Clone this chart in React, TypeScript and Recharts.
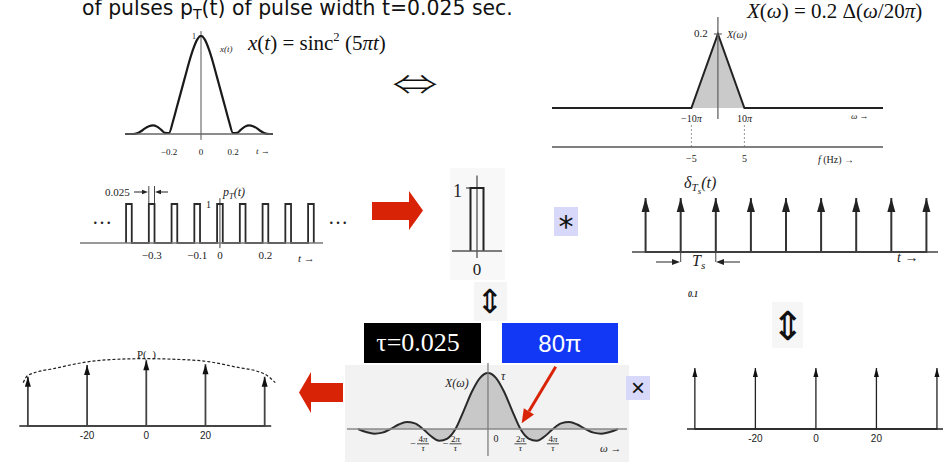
import React from 'react';
import { ComposedChart, Line, Area, XAxis, YAxis, ReferenceLine } from 'recharts';

const SERIF = '"Liberation Serif", "Times New Roman", serif';
const SANS = '"Liberation Sans", Arial, sans-serif';
const DEJAVU = '"DejaVu Sans", sans-serif';
const CJK = '"Noto Sans CJK JP", "DejaVu Sans", sans-serif';
const RED = '#d92306';

// ---------------- data ----------------
// top-left: x(t) = sinc^2(5πt)
const sincSqTime = [-0.475, -0.45, -0.425, -0.4, -0.375, -0.35, -0.325, -0.3, -0.275, -0.25, -0.225, -0.2, -0.175, -0.15, -0.125, -0.1, -0.075, -0.05, -0.025, 0, 0.025, 0.05, 0.075, 0.1, 0.125, 0.15, 0.175, 0.2, 0.225, 0.25, 0.275, 0.3, 0.325, 0.35, 0.375, 0.4, 0.425, 0.45];
const sincSqValue = [0, 0, 0, 0.006, 0.028, 0.058, 0.08, 0.088, 0.075, 0.045, 0.012, 0.01, 0.13, 0.28, 0.43, 0.58, 0.73, 0.86, 0.96, 1, 0.96, 0.86, 0.73, 0.58, 0.43, 0.28, 0.13, 0.01, 0.012, 0.045, 0.075, 0.088, 0.08, 0.058, 0.028, 0.006, 0, 0];
const sincSqTicks = [-0.2, 0, 0.2];

// top-right: X(ω) = 0.2 Δ(ω/20π), ω in units of π
const triOmega = [-62.6, -10, 0, 10, 62.3];
const triValue = [0, 0, 0.2, 0, 0];
const triTicks = [-10, 10];
const freqAxisHz = [-31.3, 31.15];
const freqTicks = [-5, 5];

// pulse train p_T(t)
const pulseCenters = [-0.4, -0.3, -0.2, -0.1, 0, 0.1, 0.2, 0.3, 0.4];
const pulseWidth = 0.025;
const pulseTicks = [-0.3, -0.1, 0, 0.2];

// single pulse
const singlePulseCenters = [0];
const singlePulseTicks = [0];

// impulse train δ_Ts(t), Ts = 0.1
const combTimes = [-0.4, -0.3, -0.2, -0.1, 0, 0.1, 0.2, 0.3, 0.4];
const combTimeHeights = [1, 1, 1, 1, 1, 1, 1, 1, 1];

// spectrum of one pulse, ω in units of 2π/τ
const pulseSpecOmega = [-4, -3.75, -3.5, -3.25, -3, -2.75, -2.5, -2.25, -2, -1.75, -1.5, -1.25, -1, -0.75, -0.5, -0.25, 0, 0.25, 0.5, 0.75, 1, 1.25, 1.5, 1.75, 2, 2.25, 2.5, 2.75, 3, 3.25, 3.5, 3.75, 4];
const pulseSpecValue = [0, -0.055, -0.085, -0.065, 0, 0.08, 0.125, 0.1, 0, -0.13, -0.21, -0.17, 0, 0.32, 0.66, 0.91, 1, 0.91, 0.66, 0.32, 0, -0.17, -0.21, -0.13, 0, 0.1, 0.125, 0.08, 0, -0.065, -0.085, -0.055, 0];
const pulseSpecTicks = [-2, -1, 0, 1, 2];
const pulseSpecNumer = ['4π', '2π', '0', '2π', '4π'];

// frequency comb
const combFreqs = [-40, -20, 0, 20, 40];
const combFreqHeights = [1, 1, 1, 1, 1];
const combFreqTicks = [-20, 0, 20];

// sampled spectrum P(ω)
const sampledFreqs = [-40, -20, 0, 20, 40];
const sampledHeights = [0.75, 0.93, 1, 0.94, 0.75];
const envelopeFreq = [-41.6, -40, -30, -20, -10, 0, 10, 20, 30, 40, 43.6];
const envelopeValue = [0.66, 0.77, 0.885, 0.975, 1.015, 1.025, 1.015, 0.985, 0.9, 0.79, 0.66];
const sampledTicks = [-20, 0, 20];

// ---------------- helpers ----------------
const zip = (xs: number[], ys: number[], kx: string, ky: string) => xs.map((x, i) => ({ [kx]: x, [ky]: ys[i] }));
const buildStems = (xs: number[], hs: number[]) =>
  xs.flatMap((x, i) => [{ x, y: 0 }, { x, y: hs[i], tip: true }, { x, y: 0 }]);
const buildPulses = (cs: number[], w: number) =>
  cs.flatMap((c) => [{ t: c - w / 2, v: 0 }, { t: c - w / 2, v: 1 }, { t: c + w / 2, v: 1 }, { t: c + w / 2, v: 0 }]);

const sincSqData = zip(sincSqTime, sincSqValue, 't', 'v');
const triData = zip(triOmega, triValue, 'w', 'v');
const freqData = zip(freqAxisHz, [0, 0], 'f', 'v');
const pulseData = buildPulses(pulseCenters, pulseWidth);
const singlePulseData = buildPulses(singlePulseCenters, pulseWidth);
const combTimeData = buildStems(combTimes, combTimeHeights);
const pulseSpecData = zip(pulseSpecOmega, pulseSpecValue, 'u', 'v');
const combFreqData = buildStems(combFreqs, combFreqHeights);
const sampledData = buildStems(sampledFreqs, sampledHeights);
const envelopeData = zip(envelopeFreq, envelopeValue, 'x', 'env');

const fmtNum = (v: number) => (v < 0 ? '\u2212' + String(-v) : String(v));

const tickText = (size: number, dy: number, family: string, fmt: (v: number) => React.ReactNode = fmtNum, dx = 0) =>
  (p: any) => (
    <text x={p.x + dx} y={p.y + dy} textAnchor="middle" fontSize={size} fontFamily={family} fill="#222">
      {fmt(p.payload.value)}
    </text>
  );

const arrowDot = (w: number, h: number, color: string) => (p: any) => {
  const { cx, cy, payload, index } = p;
  if (!payload || !payload.tip) return <g key={`d${index}`} />;
  return <path key={`d${index}`} d={`M${cx},${cy} L${cx - w / 2},${cy + h} L${cx + w / 2},${cy + h} Z`} fill={color} />;
};

const FracTick = (p: any) => {
  const { x, y, payload } = p;
  const v = payload.value;
  const i = pulseSpecTicks.indexOf(v);
  if (v === 0) {
    return <text x={x + 8} y={y - 1} textAnchor="middle" fontFamily={SERIF} fontSize={10} fill="#222">0</text>;
  }
  const num = pulseSpecNumer[i];
  return (
    <g>
      {v < 0 && <text x={x - 10} y={y + 3.5} textAnchor="middle" fontFamily={SERIF} fontSize={10} fill="#222">−</text>}
      <text x={x} y={y - 0.7} textAnchor="middle" fontFamily={SERIF} fontSize={9} fill="#222">
        {num.slice(0, 1)}<tspan fontStyle="italic">{num.slice(1)}</tspan>
      </text>
      <line x1={x - 6} x2={x + 6} y1={y + 0.8} y2={y + 0.8} stroke="#222" strokeWidth={0.8} />
      <text x={x} y={y + 7.5} textAnchor="middle" fontFamily={SERIF} fontStyle="italic" fontSize={9} fill="#222">τ</text>
    </g>
  );
};

const Pos = ({ left, top, children }: any) => (
  <div style={{ position: 'absolute', left, top }}>{children}</div>
);

const L = ({ x, base, size, family = SERIF, children, color = '#222', italic = false, weight = 'normal' }: any) => (
  <div
    style={{
      position: 'absolute', left: x, top: base - 0.84 * size, fontSize: size, lineHeight: `${size}px`,
      fontFamily: family, color, whiteSpace: 'nowrap', fontStyle: italic ? 'italic' : 'normal', fontWeight: weight,
    }}
  >
    {children}
  </div>
);

const CL = ({ cx, base, size, family = SERIF, children, color = '#222' }: any) => (
  <div
    style={{
      position: 'absolute', left: cx - 150, width: 300, textAlign: 'center', top: base - 0.84 * size,
      fontSize: size, lineHeight: `${size}px`, fontFamily: family, color, whiteSpace: 'nowrap',
    }}
  >
    {children}
  </div>
);

const Sub = ({ children, size = '0.7em', shift = '-0.3em' }: any) => (
  <span style={{ fontSize: size, verticalAlign: shift, lineHeight: 0 }}>{children}</span>
);

const Box = ({ left, top, width, height, bg }: any) => (
  <div style={{ position: 'absolute', left, top, width, height, background: bg }} />
);

const Sym = ({ cx, cy, w, h, size, sx = 1, sy = 1, family, weight = 'normal', children }: any) => (
  <div
    style={{
      position: 'absolute', left: cx - w / 2, top: cy - h / 2, width: w, height: h, display: 'flex',
      alignItems: 'center', justifyContent: 'center', fontSize: size, lineHeight: `${h}px`, fontFamily: family,
      fontWeight: weight, color: '#111', transform: `scale(${sx}, ${sy})`, overflow: 'visible',
    }}
  >
    {children}
  </div>
);

export default function App() {
  const m0 = { right: 0, bottom: 0, left: 0 };
  return (
    <div style={{ position: 'absolute', left: 0, top: 0, width: 947, height: 464, overflow: 'hidden', background: '#fff' }}>
      {/* faint backgrounds */}
      <Box left={450} top={168} width={55} height={112} bg="#f8f8f8" />
      <Box left={474} top={282} width={33} height={39} bg="#f5f5f5" />
      <Box left={772} top={302} width={31} height={46} bg="#f6f6f6" />
      <Box left={345} top={365} width={284} height={97} bg="#f2f2f2" />

      {/* heading */}
      <L x={82} base={15.5} size={20.4} family={DEJAVU} color="#111">
        of pulses p<Sub>T</Sub>(t) of pulse width t=0.025 sec.
      </L>

      {/* formulas */}
      <L x={248} base={50.5} size={21} color="#111">
        <i>x</i>(<i>t</i>) = sinc<span style={{ fontSize: '0.6em', verticalAlign: '0.75em', lineHeight: 0 }}>2</span> (5<i>πt</i>)
      </L>
      <L x={747} base={18.5} size={21} color="#111">
        <i>X</i>(<i>ω</i>) = 0.2 Δ(<i>ω</i>/20<i>π</i>)
      </L>

      {/* ⇔ */}
      <Sym cx={415} cy={83} w={48} h={30} size={46} sx={1} sy={0.62} family={CJK} weight={300}>⇔</Sym>

      {/* A: sinc^2 */}
      <Pos left={125} top={26}>
        <ComposedChart width={148} height={132} data={sincSqData} margin={{ top: 10, ...m0 }}>
          <XAxis dataKey="t" type="number" domain={[-0.475, 0.45]} ticks={sincSqTicks} interval={0} height={24}
            tickSize={0} tickMargin={0} tickLine={false} axisLine={{ stroke: '#666', strokeWidth: 1.5 }}
            tick={tickText(9, 21, SERIF)} />
          <YAxis hide type="number" domain={[0, 1]} />
          <ReferenceLine segment={[{ x: 0, y: -0.06 }, { x: 0, y: 1.05 }]} stroke="#555" strokeWidth={1} ifOverflow="visible" />
          <ReferenceLine segment={[{ x: -0.015, y: 1 }, { x: 0.015, y: 1 }]} stroke="#555" strokeWidth={1} ifOverflow="visible" />
          <Line dataKey="v" type="monotone" stroke="#1a1a1a" strokeWidth={2.2} dot={false} isAnimationActive={false} />
        </ComposedChart>
      </Pos>
      <L x={192} base={40} size={8}>1</L>
      <L x={220} base={53} size={9} italic>x(t)</L>
      <L x={256} base={155} size={9}><i>t</i> →</L>

      {/* B: triangle spectrum */}
      <Pos left={552} top={14}>
        <ComposedChart width={331} height={114} data={triData} margin={{ top: 20, ...m0 }}>
          <XAxis dataKey="w" type="number" domain={[-62.6, 62.3]} ticks={triTicks} interval={0} height={20}
            tickSize={0} tickMargin={0} tickLine={false} axisLine={false}
            tick={tickText(10, 13.5, SERIF, (v) => <>{fmtNum(v)}<tspan fontStyle="italic">π</tspan></>)} />
          <YAxis hide type="number" domain={[0, 0.2]} />
          <Area dataKey="v" type="linear" baseValue={0} fill="#cacaca" fillOpacity={1} stroke="#222" strokeWidth={2} isAnimationActive={false} />
          <ReferenceLine segment={[{ x: 0, y: -0.03 }, { x: 0, y: 0.246 }]} stroke="#666" strokeWidth={1.3} ifOverflow="visible" />
          <ReferenceLine segment={[{ x: -1.5, y: 0.2 }, { x: 1.5, y: 0.2 }]} stroke="#444" strokeWidth={1} ifOverflow="visible" />
        </ComposedChart>
      </Pos>
      <Pos left={552} top={124}>
        <ComposedChart width={331} height={43} data={freqData} margin={{ top: 0, ...m0 }}>
          <XAxis dataKey="f" type="number" domain={[-31.3, 31.15]} ticks={freqTicks} interval={0} height={20}
            tickSize={0} tickMargin={0} tickLine={false} axisLine={false} tick={tickText(10, 15, SERIF)} />
          <YAxis hide type="number" domain={[0, 1]} />
          <ReferenceLine x={-5} stroke="#999" strokeDasharray="2 2" />
          <ReferenceLine x={5} stroke="#999" strokeDasharray="2 2" />
          <Line dataKey="v" type="linear" stroke="#555" strokeWidth={1.3} dot={false} isAnimationActive={false} />
        </ComposedChart>
      </Pos>
      <L x={694} base={37} size={11}>0.2</L>
      <L x={727} base={38} size={10} italic>X(ω)</L>
      <L x={851} base={120} size={9}><i>ω</i> →</L>
      <L x={818} base={163} size={10}><i>f</i> (Hz) →</L>

      {/* C: pulse train */}
      <Pos left={80} top={180}>
        <ComposedChart width={243} height={83} margin={{ top: 24, ...m0 }}>
          <XAxis dataKey="t" type="number" domain={[-0.615, 0.453]} ticks={pulseTicks} interval={0} height={20}
            tickSize={0} tickMargin={0} tickLine={false} axisLine={{ stroke: '#777', strokeWidth: 1.3 }}
            tick={tickText(11, 16, SERIF)} />
          <YAxis hide type="number" domain={[0, 1]} />
          <ReferenceLine segment={[{ x: 0, y: -0.13 }, { x: 0, y: 1.15 }]} stroke="#444" strokeWidth={1} ifOverflow="visible" />
          <ReferenceLine segment={[{ x: -0.3125, y: 1 }, { x: -0.3125, y: 1.46 }]} stroke="#444" strokeWidth={1} ifOverflow="visible" />
          <ReferenceLine segment={[{ x: -0.2875, y: 1 }, { x: -0.2875, y: 1.46 }]} stroke="#444" strokeWidth={1} ifOverflow="visible" />
          <Line data={pulseData} dataKey="v" type="linear" stroke="#2a2a2a" strokeWidth={1.8} dot={false} isAnimationActive={false} />
        </ComposedChart>
      </Pos>
      <L x={105} base={196} size={11}>0.025</L>
      <L x={223} base={196} size={12} italic>p<Sub>T</Sub>(t)</L>
      <L x={206} base={208} size={10}>1</L>
      <L x={92} base={224} size={20}>…</L>
      <L x={328} base={224} size={20}>…</L>
      <L x={298} base={262} size={11}><i>t</i> →</L>

      {/* D: single pulse */}
      <Pos left={452} top={170}>
        <ComposedChart width={50} height={111} margin={{ top: 18, ...m0 }}>
          <XAxis dataKey="t" type="number" domain={[-0.048, 0.048]} ticks={singlePulseTicks} interval={0} height={30}
            tickSize={0} tickMargin={0} tickLine={false} axisLine={{ stroke: '#555', strokeWidth: 1.3 }}
            tick={tickText(17, 24, SERIF)} />
          <YAxis hide type="number" domain={[0, 1]} />
          <ReferenceLine segment={[{ x: 0, y: -0.11 }, { x: 0, y: 1.2 }]} stroke="#444" strokeWidth={1.2} ifOverflow="visible" />
          <ReferenceLine segment={[{ x: -0.021, y: 1 }, { x: 0, y: 1 }]} stroke="#444" strokeWidth={1.2} ifOverflow="visible" />
          <Line data={singlePulseData} dataKey="v" type="linear" stroke="#222" strokeWidth={2} dot={false} isAnimationActive={false} />
        </ComposedChart>
      </Pos>
      <L x={453} base={197} size={18}>1</L>

      {/* E: impulse train δ_Ts(t) */}
      <Pos left={632} top={175}>
        <ComposedChart width={306} height={87} margin={{ top: 23, ...m0 }}>
          <XAxis dataKey="x" type="number" domain={[-0.4387, 0.433]} height={10} tick={false} tickLine={false}
            axisLine={{ stroke: '#444', strokeWidth: 1.5 }} />
          <YAxis hide type="number" domain={[0, 1]} />
          <ReferenceLine segment={[{ x: -0.3, y: 0 }, { x: -0.3, y: -0.57 }]} stroke="#444" strokeWidth={1} ifOverflow="visible" />
          <ReferenceLine segment={[{ x: -0.2, y: 0 }, { x: -0.2, y: -0.57 }]} stroke="#444" strokeWidth={1} ifOverflow="visible" />
          <Line data={combTimeData} dataKey="y" type="linear" stroke="#333" strokeWidth={2} dot={arrowDot(8, 14, '#222')} isAnimationActive={false} />
        </ComposedChart>
      </Pos>
      <L x={684} base={188} size={16} italic>δ<Sub>T<Sub size="0.8em" shift="-0.35em">s</Sub></Sub>(t)</L>
      <L x={692} base={266} size={16} italic>T<Sub>s</Sub></L>
      <L x={688} base={298} size={8} italic weight="bold">0.1</L>
      <L x={897} base={263} size={14}><i>t</i> →</L>

      {/* ⇕ */}
      <Sym cx={490} cy={302} w={28} h={36} size={33} family={DEJAVU} weight={300}>⇕</Sym>
      <Sym cx={787.5} cy={325.5} w={28} h={40} size={40} family={DEJAVU} weight={300}>⇕</Sym>

      {/* * and × boxes */}
      <Box left={554} top={207} width={24} height={29} bg="#d8d8fa" />
      <div style={{ position: 'absolute', left: 554, width: 24, textAlign: 'center', top: 212, fontSize: 30, lineHeight: '30px', fontFamily: DEJAVU, color: '#111' }}>*</div>
      <Box left={626} top={376} width={24} height={24} bg="#d8d8fa" />
      <div style={{ position: 'absolute', left: 626, width: 24, textAlign: 'center', top: 376, fontSize: 24, lineHeight: '24px', fontFamily: SANS, color: '#111' }}>×</div>

      {/* τ and 80π boxes */}
      <Box left={364} top={323} width={117} height={40} bg="#000" />
      <CL cx={418} base={352} size={26} color="#fff">τ=0.025</CL>
      <Box left={502} top={323} width={116} height={40} bg="#1238f5" />
      <CL cx={560} base={352} size={24} family={SANS} color="#fff">80π</CL>

      {/* G: single pulse spectrum */}
      <Pos left={347} top={363}>
        <ComposedChart width={280} height={100} data={pulseSpecData} margin={{ top: 10, ...m0 }}>
          <XAxis dataKey="u" type="number" domain={[-4.34, 4.28]} ticks={pulseSpecTicks} interval={0} height={20}
            tickSize={0} tickMargin={0} tickLine={false} axisLine={false} tick={FracTick} />
          <YAxis hide type="number" domain={[-0.25, 1]} />
          <Area dataKey="v" type="monotone" baseValue={0} fill="#c8c8c8" fillOpacity={1} stroke="#2a2a2a" strokeWidth={2} isAnimationActive={false} />
          <ReferenceLine y={0} stroke="#8a8a8a" strokeWidth={1.5} />
          <ReferenceLine segment={[{ x: 0, y: -0.48 }, { x: 0, y: 1.23 }]} stroke="#777" strokeWidth={1.2} ifOverflow="visible" />
        </ComposedChart>
      </Pos>
      <L x={445} base={387} size={12} italic>X(ω)</L>
      <L x={501} base={380} size={12} italic>τ</L>
      <L x={600} base={452} size={11}><i>ω</i> →</L>

      {/* F: frequency comb */}
      <Pos left={687} top={350}>
        <ComposedChart width={256} height={99} margin={{ top: 18, ...m0 }}>
          <XAxis dataKey="x" type="number" domain={[-42.6, 42.0]} ticks={combFreqTicks} interval={0} height={20}
            tickSize={0} tickMargin={0} tickLine={false} axisLine={{ stroke: '#222', strokeWidth: 1.4 }}
            tick={tickText(10, 13, SANS, (v) => String(v))} />
          <YAxis hide type="number" domain={[0, 1]} />
          <Line data={combFreqData} dataKey="y" type="linear" stroke="#222" strokeWidth={1.3} dot={arrowDot(5, 9, '#111')} isAnimationActive={false} />
        </ComposedChart>
      </Pos>

      {/* H: sampled spectrum */}
      <Pos left={19} top={340}>
        <ComposedChart width={259} height={106} margin={{ top: 17, ...m0 }}>
          <XAxis dataKey="x" type="number" domain={[-43, 44.5]} ticks={sampledTicks} interval={0} height={20}
            tickSize={0} tickMargin={0} tickLine={false} axisLine={false}
            tick={tickText(10, 13, SANS, (v) => String(v))} />
          <YAxis hide type="number" domain={[0, 1.05]} />
          <ReferenceLine segment={[{ x: -42.9, y: 0 }, { x: 42.2, y: 0 }]} stroke="#222" strokeWidth={1.5} ifOverflow="visible" />
          <Line data={sampledData} dataKey="y" type="linear" stroke="#444" strokeWidth={1.8} dot={arrowDot(6, 10, '#111')} isAnimationActive={false} />
          <Line data={envelopeData} dataKey="env" type="monotone" stroke="#222" strokeWidth={1.2} strokeDasharray="3 2" dot={false} isAnimationActive={false} />
        </ComposedChart>
      </Pos>
      <L x={137} base={358} size={11}>P(&nbsp;&nbsp;)</L>

      {/* arrows */}
      <svg width={947} height={464} style={{ position: 'absolute', left: 0, top: 0, pointerEvents: 'none' }}>
        <polygon points="372,202 409,202 409,191 423,210.5 409,230 409,220 372,220" fill={RED} />
        <polygon points="343,383 311,383 311,372 299,392.5 311,413 311,402 343,402" fill={RED} />
        <line x1={555.7} y1={366.7} x2={529} y2={411.3} stroke={RED} strokeWidth={3} />
        <polygon points="521.7,423.3 534,414.4 523.8,408.2" fill={RED} />
        {/* Ts arrows */}
        <line x1={656} y1={262} x2={673} y2={262} stroke="#222" strokeWidth={1} />
        <polygon points="680,262 672,259 672,265" fill="#222" />
        <line x1={723} y1={262} x2={740} y2={262} stroke="#222" strokeWidth={1} />
        <polygon points="716,262 724,259 724,265" fill="#222" />
        {/* 0.025 arrows */}
        <line x1={134} y1={192} x2={143} y2={192} stroke="#222" strokeWidth={1} />
        <polygon points="148,192 142,189.8 142,194.2" fill="#222" />
        <line x1={160} y1={192} x2={168} y2={192} stroke="#222" strokeWidth={1} />
        <polygon points="155,192 161,189.8 161,194.2" fill="#222" />
      </svg>
    </div>
  );
}
